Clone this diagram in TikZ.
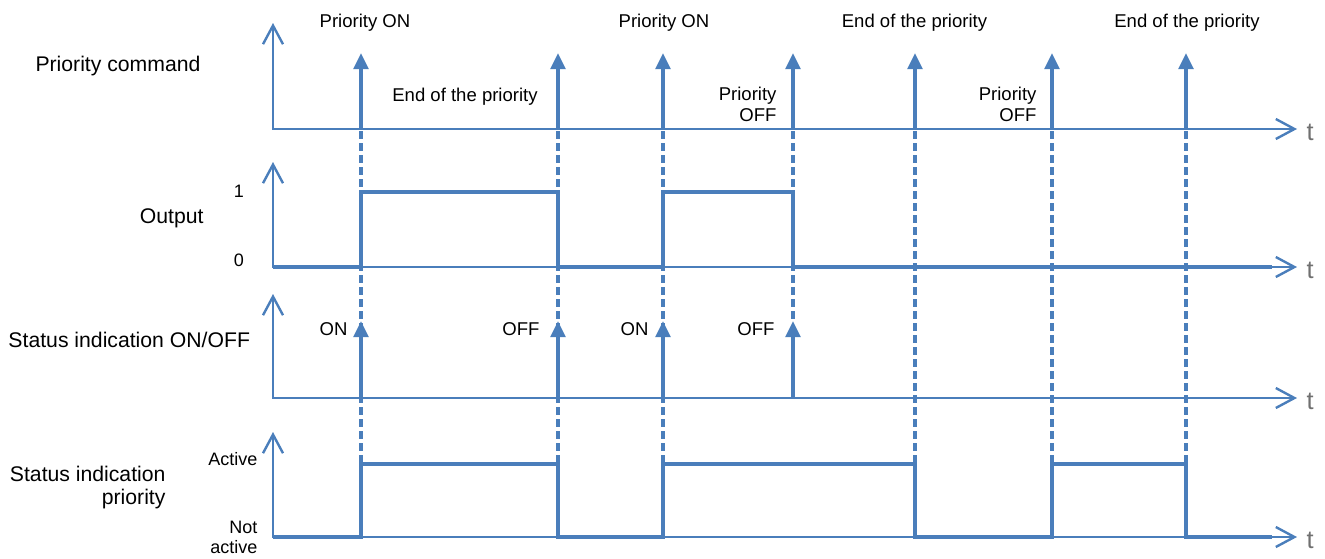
\documentclass[tikz,border=0pt]{standalone}
\usepackage{fontspec}
\setmainfont{Liberation Sans}
\usetikzlibrary{arrows.meta}

\definecolor{lineblue}{RGB}{74,126,187}
\definecolor{tgray}{RGB}{112,112,112}

\tikzset{every picture/.style={line width=0.75pt}}
\tikzset{
  axis/.style={draw=lineblue, line width=1.8pt,
    {Straight Barb[length=14pt,width=15pt]}-{Straight Barb[length=14pt,width=15pt]}},
  signal/.style={draw=lineblue, line width=2.4pt},
  event/.style={draw=lineblue, line width=2.6pt, -{Triangle[length=12pt,width=11pt]}},
  guide/.style={draw=lineblue, line width=2.4pt, dash pattern=on 6pt off 3pt},
  toplbl/.style={inner sep=0pt, font=\fontsize{13.9}{15.75}\selectfont},
  sidelbl/.style={inner sep=0pt, font=\fontsize{15.9}{17}\selectfont},
  levellbl/.style={inner sep=0pt, font=\fontsize{13.5}{15.5}\selectfont},
  tlbl/.style={inner sep=0pt, text=tgray, font=\fontsize{19}{19}\selectfont}
}

\begin{document}
\begin{tikzpicture}[x=0.75pt,y=0.75pt,yscale=-1,xscale=1]
\path[use as bounding box] (0,0) rectangle (1325,558);

%Dashed Lines
\draw[guide]    (361,131) -- (361,464) ;
\draw[guide]    (558,131) -- (558,464) ;
\draw[guide]    (663,131) -- (663,464) ;
\draw[guide]    (793,131) -- (793,321) ;
\draw[guide]    (915,131) -- (915,464) ;
\draw[guide]    (1052,131) -- (1052,464) ;
\draw[guide]    (1186,131) -- (1186,464) ;

%Axes
\draw[axis]    (273,23) -- (273,129) -- (1297,129) ;
\draw[axis]    (273,162) -- (273,267) -- (1297,267) ;
\draw[axis]    (273,294) -- (273,398) -- (1297,398) ;
\draw[axis]    (273,432) -- (273,537) -- (1297,537) ;

%Priority command arrows
\draw[event]    (361,129) -- (361,53) ;
\draw[event]    (558,129) -- (558,53) ;
\draw[event]    (663,129) -- (663,53) ;
\draw[event]    (793,129) -- (793,53) ;
\draw[event]    (915,129) -- (915,53) ;
\draw[event]    (1052,129) -- (1052,53) ;
\draw[event]    (1186,129) -- (1186,53) ;

%Output
\draw[signal]    (273,267) -- (361,267) -- (361,192) -- (558,192) -- (558,267) -- (663,267) -- (663,192) -- (793,192) -- (793,267) -- (1272,267) ;

%Status ON/OFF arrows
\draw[event]    (361,398) -- (361,321) ;
\draw[event]    (558,398) -- (558,321) ;
\draw[event]    (663,398) -- (663,321) ;
\draw[event]    (793,398) -- (793,321) ;

%Status priority
\draw[signal]    (273,537) -- (361,537) -- (361,464) -- (558,464) -- (558,537) -- (663,537) -- (663,464) -- (915,464) -- (915,537) -- (1052,537) -- (1052,464) -- (1186,464) -- (1186,537) -- (1272,537) ;

% Text Node
\draw (365,27) node [anchor=base][toplbl] (pon1) {Priority ON};
% Text Node
\draw (465,101) node [anchor=base][toplbl] (eop1) {End of the priority};
% Text Node
\draw (664,27) node [anchor=base][toplbl] (pon2) {Priority ON};
% Text Node
\draw (777,104.5) node [anchor=east][toplbl,align=right] (poff1) {Priority\\OFF};
% Text Node
\draw (914.5,27) node [anchor=base][toplbl] (eop2) {End of the priority};
% Text Node
\draw (1037,104.5) node [anchor=east][toplbl,align=right] (poff2) {Priority\\OFF};
% Text Node
\draw (1187,27) node [anchor=base][toplbl] (eop3) {End of the priority};

% Text Node
\draw (35,71) node [anchor=base west][sidelbl] (cmdlbl) {Priority command};
% Text Node
\draw (204,223) node [anchor=base east][sidelbl] (outlbl) {Output};
% Text Node
\draw (8,347) node [anchor=base west][sidelbl] (onofflbl) {Status indication ON/OFF};
% Text Node
\draw (166,487.5) node [anchor=east][sidelbl,align=right] (priolbl) {Status indication\\priority};

% Text Node
\draw (239,197) node [anchor=base][levellbl] (one) {1};
% Text Node
\draw (239,266) node [anchor=base][levellbl] (zero) {0};
% Text Node
\draw (258,465) node [anchor=base east][levellbl] (active) {Active};
% Text Node
\draw (258,537.5) node [anchor=east][levellbl,align=right] (notactive) {Not\\active};

% Text Node
\draw (348,335) node [anchor=base east][toplbl] (on1) {ON};
% Text Node
\draw (540,335) node [anchor=base east][toplbl] (off1) {OFF};
% Text Node
\draw (649,335) node [anchor=base east][toplbl] (on2) {ON};
% Text Node
\draw (775,335) node [anchor=base east][toplbl] (off2) {OFF};

% Text Node
\draw (1306,140) node [anchor=base west][tlbl] (t1) {t};
% Text Node
\draw (1306,278) node [anchor=base west][tlbl] (t2) {t};
% Text Node
\draw (1306,409) node [anchor=base west][tlbl] (t3) {t};
% Text Node
\draw (1306,548) node [anchor=base west][tlbl] (t4) {t};

\end{tikzpicture}
\end{document}
